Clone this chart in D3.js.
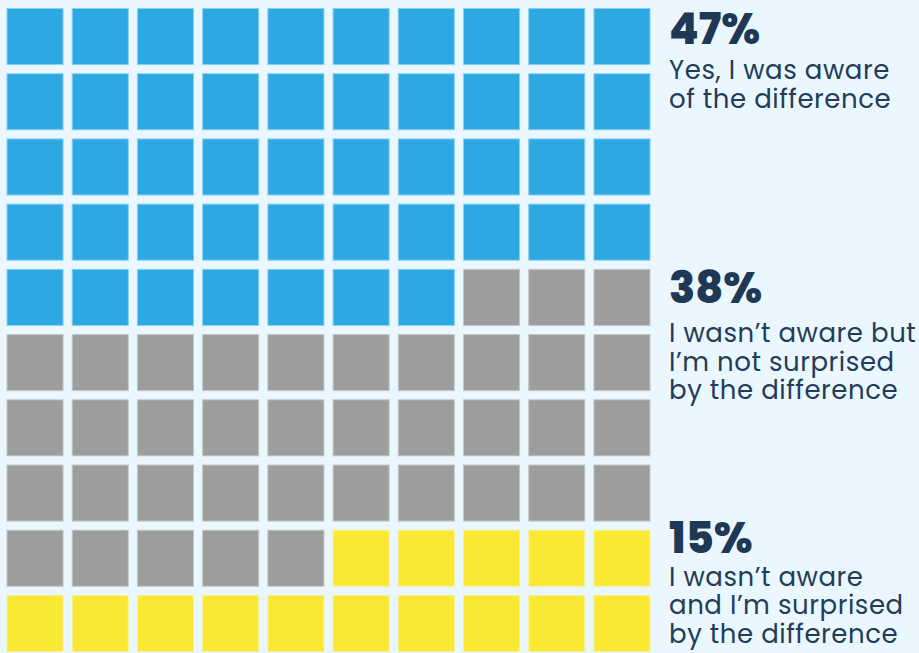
<!DOCTYPE html>
<html>
<head>
<meta charset="utf-8">
<script src="https://cdn.jsdelivr.net/npm/d3@7"></script>
<style>
  html, body { margin: 0; padding: 0; background: #eaf7fe; }
  svg { display: block; }
</style>
</head>
<body>
<svg id="chart" width="919" height="653"></svg>
<script>
const categories = ["Yes, I was aware of the difference", "I wasn’t aware but I’m not surprised by the difference", "I wasn’t aware and I’m surprised by the difference"];
const percentLabels = ["47%", "38%", "15%"];
const values = [47, 38, 15];
const labelLines = [
  ["Yes, I was aware", "of the difference"],
  ["I wasn’t aware but", "I’m not surprised", "by the difference"],
  ["I wasn’t aware", "and I’m surprised", "by the difference"]
];
const colors = ["#2ea8e3", "#9d9d9c", "#f9e933"];
const strokes = ["#86d0f2", "#c3c6c8", "#f5f0a0"];

const svg = d3.select("#chart");
svg.append("rect").attr("width", 919).attr("height", 653).attr("fill", "#eaf7fe");

// build cells
const cells = [];
values.forEach((v, ci) => { for (let k = 0; k < v; k++) cells.push({ cat: ci }); });
cells.forEach((c, i) => { c.row = Math.floor(i / 10); c.col = i % 10; });

const x = d3.scaleBand().domain(d3.range(10)).range([6.5, 650.5]).paddingInner(0.125);
const y = d3.scaleBand().domain(d3.range(10)).range([8, 652]).paddingInner(0.125);

svg.append("g").selectAll("rect").data(cells).join("rect")
  .attr("x", d => x(d.col) + 0.5)
  .attr("y", d => y(d.row) + 0.5)
  .attr("width", x.bandwidth() - 1)
  .attr("height", y.bandwidth() - 1)
  .attr("fill", d => colors[d.cat])
  .attr("stroke", d => strokes[d.cat])
  .attr("stroke-width", 1);

const fontFam = "Poppins, 'Open Sans', Lato, sans-serif";
const headBase = [43.5, 302.5, 552.5];
const lineBases = [[79, 108.3], [341.7, 370.5, 398.5], [585.7, 614.3, 643.3]];

const g = svg.append("g");
percentLabels.forEach((p, i) => {
  g.append("text").attr("x", 669).attr("y", headBase[i])
    .attr("font-family", fontFam).attr("font-weight", 800).attr("font-size", 43)
    .attr("fill", "#1f3853").text(p);
  labelLines[i].forEach((ln, j) => {
    g.append("text").attr("x", 669).attr("y", lineBases[i][j])
      .attr("font-family", fontFam).attr("font-weight", 400).attr("font-size", 26)
      .attr("letter-spacing", 0.55)
      .attr("fill", "#233c57").text(ln);
  });
});
</script>
</body>
</html>
